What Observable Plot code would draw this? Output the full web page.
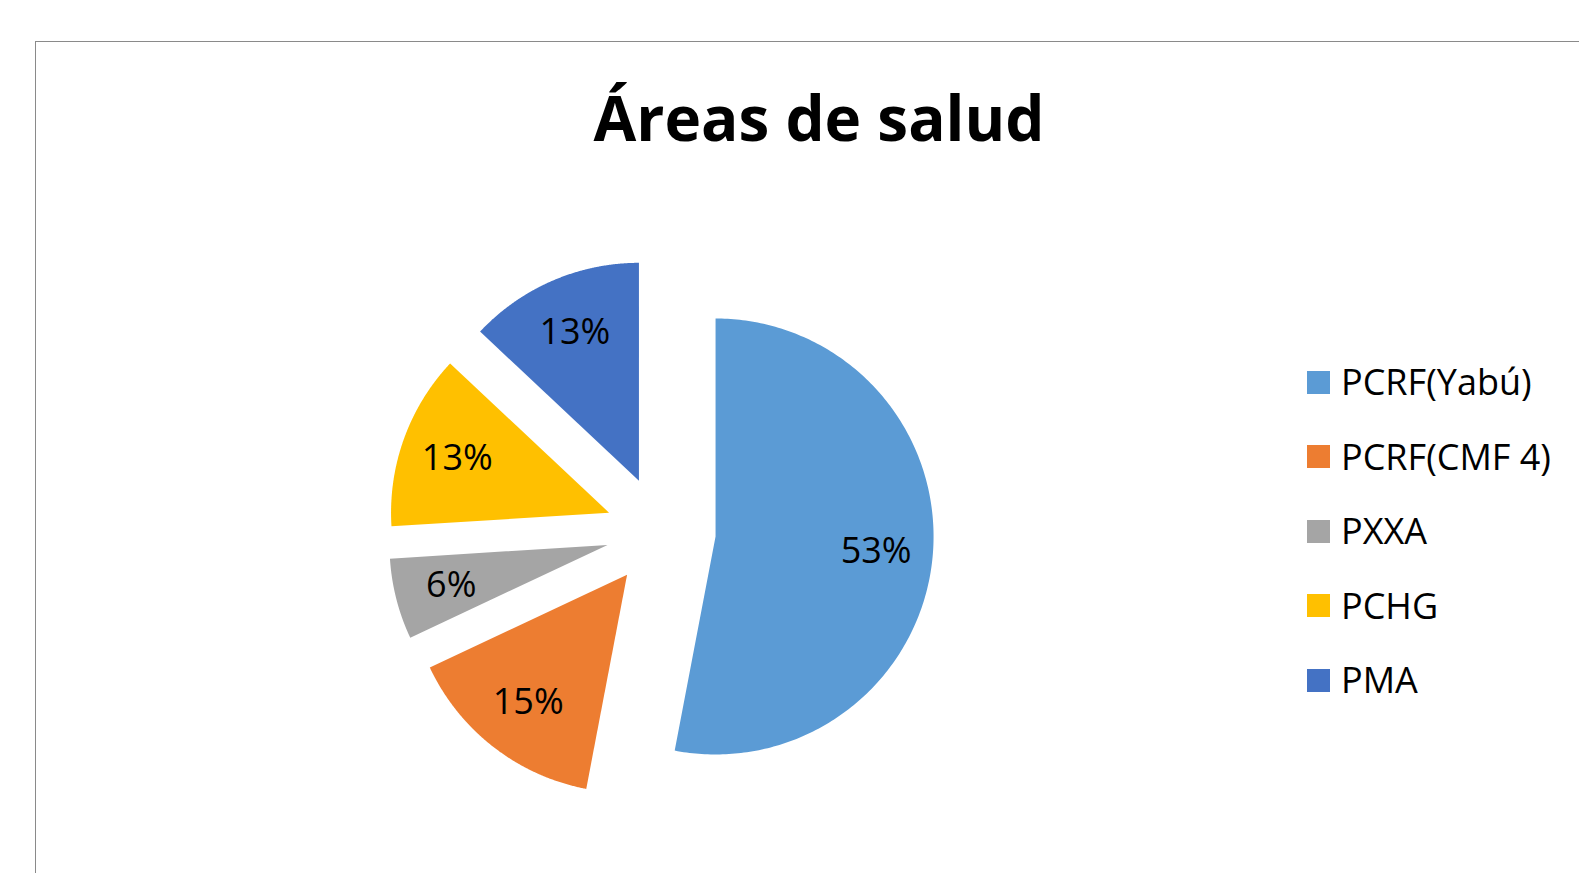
<!DOCTYPE html>
<html>
<head>
<meta charset="utf-8">
<script src="https://cdn.jsdelivr.net/npm/d3@7"></script>
<script src="https://cdn.jsdelivr.net/npm/@observablehq/plot@0.6"></script>
<style>
  html, body { margin: 0; padding: 0; background: #fff; }
  #wrap { position: relative; width: 1579px; height: 873px; overflow: hidden; font-family: "Open Sans", sans-serif; }
  #frame { position: absolute; left: 35px; top: 41px; width: 1700px; height: 1000px; border: 1.2px solid #8a8a8a; box-sizing: border-box; pointer-events: none; }
  #title { position: absolute; left: 319px; width: 1000px; top: 86px; text-align: center; font-size: 62px; line-height: 62px; font-weight: 700; color: #000; margin: 0; }
  #chart { position: absolute; left: 0; top: 0; }
  #legend { position: absolute; left: 1307px; top: 344.75px; }
  .row { display: flex; align-items: center; height: 74.5px; }
  .sw { width: 23px; height: 23px; margin-right: 11px; }
  .lab { font-size: 36px; line-height: 36px; color: #000; white-space: nowrap; }
</style>
</head>
<body>
<div id="wrap">
  <div id="frame"></div>
  <div id="chart"></div>
  <div id="title">Áreas de salud</div>
  <div id="legend"></div>
</div>
<script>
const categories = ["PCRF(Yabú)", "PCRF(CMF 4)", "PXXA", "PCHG", "PMA"];
const values = [53, 15, 6, 13, 13];
const labels = ["53%", "15%", "6%", "13%", "13%"];
const colors = ["#5B9BD5", "#ED7D31", "#A5A5A5", "#FFC000", "#4472C4"];

// layout (pixels)
const W = 1579, H = 873;
const R = 218;            // pie radius in px
const cx = 660.3, cy = 530.8; // pie centre in px
const explode = 55 / R;   // explosion as fraction of radius
const labelK = 0.74;      // label distance from slice apex, fraction of radius

const arcs = d3.pie().sort(null).startAngle(0).endAngle(2 * Math.PI)(values);

const pts = [];
const labelData = [];
arcs.forEach((a, i) => {
  const mid = (a.startAngle + a.endAngle) / 2;
  const ax = explode * Math.sin(mid), ay = explode * Math.cos(mid);
  const cat = categories[i];
  pts.push({cat, x: ax, y: ay});
  const n = 240;
  for (let k = 0; k <= n; k++) {
    const t = a.startAngle + (a.endAngle - a.startAngle) * k / n;
    pts.push({cat, x: ax + Math.sin(t), y: ay + Math.cos(t)});
  }
  pts.push({cat, x: ax, y: ay});
  labelData.push({cat, text: labels[i], x: ax + labelK * Math.sin(mid), y: ay + labelK * Math.cos(mid)});
});

const chart = Plot.plot({
  width: W, height: H,
  margin: 0,
  x: {domain: [-cx / R, (W - cx) / R], axis: null},
  y: {domain: [-(H - cy) / R, cy / R], axis: null},
  color: {domain: categories, range: colors},
  style: {fontFamily: "Open Sans", background: "transparent", overflow: "visible"},
  marks: [
    Plot.line(pts, {x: "x", y: "y", z: "cat", fill: "cat", stroke: "none", curve: "linear"}),
    Plot.text(labelData, {x: "x", y: "y", text: "text", fontSize: 36, fill: "#000", fontFamily: "Open Sans"})
  ]
});
document.getElementById("chart").appendChild(chart);

const leg = document.getElementById("legend");
categories.forEach((c, i) => {
  const row = document.createElement("div");
  row.className = "row";
  const sw = document.createElement("div");
  sw.className = "sw";
  sw.style.background = colors[i];
  const lab = document.createElement("div");
  lab.className = "lab";
  lab.textContent = c;
  row.appendChild(sw);
  row.appendChild(lab);
  leg.appendChild(row);
});
</script>
</body>
</html>
